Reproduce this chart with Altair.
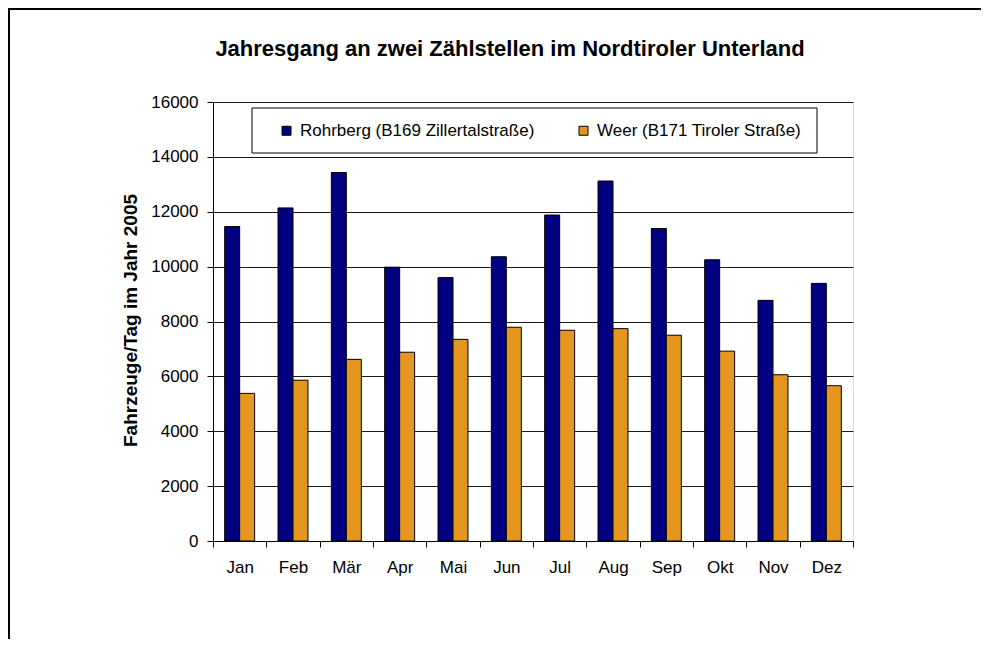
import altair as alt
import pandas as pd

# ---- data ----
months = ["Jan", "Feb", "Mär", "Apr", "Mai", "Jun", "Jul", "Aug", "Sep", "Okt", "Nov", "Dez"]
rohrberg = [11460, 12140, 13430, 9980, 9600, 10360, 11880, 13120, 11390, 10250, 8770, 9390]
weer = [5380, 5860, 6620, 6880, 7350, 7790, 7680, 7740, 7500, 6920, 6060, 5660]
series_names = ["Rohrberg (B169 Zillertalstraße)", "Weer (B171 Tiroler Straße)"]
series_colors = ["#000080", "#E6961F"]
y_ticks = [0, 2000, 4000, 6000, 8000, 10000, 12000, 14000, 16000]
title_text = "Jahresgang an zwei Zählstellen im Nordtiroler Unterland"
y_title = "Fahrzeuge/Tag im Jahr 2005"

FONT = "Liberation Sans, Arial, sans-serif"

rows = []
for i, m in enumerate(months):
    rows.append({"Monat": m, "Serie": series_names[0], "Wert": rohrberg[i]})
    rows.append({"Monat": m, "Serie": series_names[1], "Wert": weer[i]})
df = pd.DataFrame(rows)

bars = alt.Chart(df).mark_bar(stroke="black", strokeWidth=1).encode(
    x=alt.X(
        "Monat:N",
        sort=months,
        scale=alt.Scale(paddingInner=0, paddingOuter=0),
        axis=alt.Axis(
            title=None, labelAngle=0, tickBand="extent", tickSize=6,
            labelPadding=12, labelFontSize=17, labelFont=FONT, labelColor="black",
            domainColor="black", tickColor="black", grid=False,
        ),
    ),
    xOffset=alt.XOffset(
        "Serie:N", sort=series_names,
        scale=alt.Scale(paddingInner=0, paddingOuter=0.78),
    ),
    y=alt.Y(
        "Wert:Q",
        scale=alt.Scale(domain=[0, 16000], nice=False),
        axis=alt.Axis(
            values=y_ticks, format="d", title=y_title,
            tickSize=6, labelPadding=9, labelFontSize=17, labelFont=FONT,
            labelColor="black", domainColor="black", tickColor="black",
            grid=True, gridColor="#1a1a1a", gridWidth=1,
            titleFont=FONT, titleFontSize=19, titleFontWeight="bold", titleColor="black",
            titleAngle=270, titleAlign="center", titleBaseline="middle",
            titleX=-83, titleY=218,
        ),
    ),
    color=alt.Color(
        "Serie:N",
        scale=alt.Scale(domain=series_names, range=series_colors),
        legend=alt.Legend(
            title=None, orient="none", legendX=65, legendY=20,
            direction="horizontal", symbolType="square", symbolSize=81,
            symbolStrokeColor="black", symbolStrokeWidth=1,
            labelFontSize=17, labelFont=FONT, labelColor="black",
            columnPadding=40, labelOffset=5, padding=0, labelLimit=400,
        ),
    ),
)

one = pd.DataFrame({"k": [0]})

legend_box = alt.Chart(one).mark_rect(fill="white", stroke="black", strokeWidth=1).encode(
    x=alt.value(39), x2=alt.value(604), y=alt.value(6), y2=alt.value(51)
)

title_mark = alt.Chart(one).mark_text(
    text=title_text, font=FONT, fontSize=22, fontWeight="bold", color="black",
    align="center", baseline="alphabetic",
).encode(x=alt.value(297), y=alt.value(-46))

frame_top = alt.Chart(one).mark_rule(color="black", strokeWidth=2).encode(
    x=alt.value(-205), x2=alt.value(770), y=alt.value(-93)
)
frame_left = alt.Chart(one).mark_rule(color="black", strokeWidth=2).encode(
    x=alt.value(-204), y=alt.value(-94), y2=alt.value(545)
)

chart = alt.layer(legend_box, bars, title_mark, frame_top, frame_left).properties(
    width=640,
    height=439,
    padding={"left": 205, "top": 94, "right": 128, "bottom": 98},
    autosize=alt.AutoSizeParams(type="none"),
).configure_view(
    fill="#C0C0C0", stroke="#808080", strokeWidth=1
).configure(background="white")

chart.save("out.html", embed_options={"renderer": "svg", "actions": False})
